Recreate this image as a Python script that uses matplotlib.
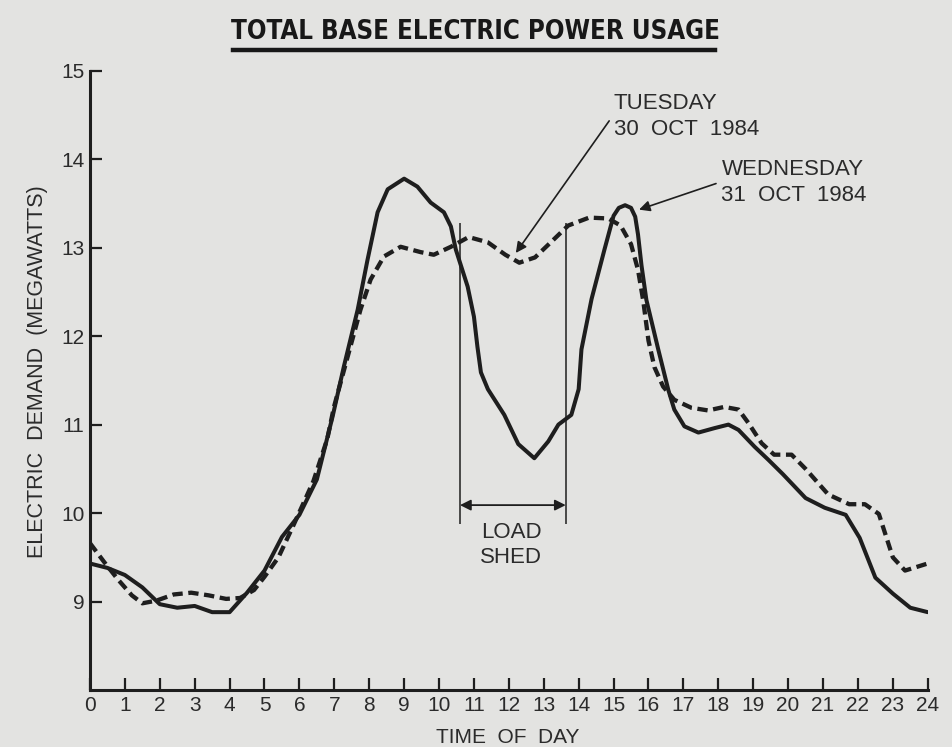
import matplotlib
matplotlib.use("Agg")
import matplotlib.pyplot as plt
from matplotlib.lines import Line2D
from matplotlib import font_manager

# (hours, megawatts)
wed_hours = [0, 0.5, 1.0, 1.5, 2.0, 2.5, 3.0, 3.5, 4.0, 4.5, 5.0, 5.5, 6.0, 6.5,
             6.95, 7.27, 7.67, 7.95, 8.24, 8.53, 9.0, 9.38, 9.76, 10.14, 10.34,
             10.48, 10.82, 11.0, 11.1, 11.2, 11.4, 11.87, 12.27, 12.73, 13.13,
             13.42, 13.79, 14.0, 14.08, 14.37, 14.74, 15.0, 15.15, 15.33, 15.5,
             15.62, 15.7, 15.8, 15.94, 16.28, 16.57, 16.74, 17.03, 17.43, 17.89,
             18.29, 18.58, 19.04, 19.44, 19.85, 20.5, 21.05, 21.65, 22.05, 22.5,
             23.0, 23.5, 24.0]
wed_mw = [9.43, 9.38, 9.30, 9.16, 8.97, 8.93, 8.95, 8.88, 8.88, 9.10, 9.35, 9.73,
          9.98, 10.38, 11.09, 11.65, 12.3, 12.86, 13.4, 13.66, 13.78, 13.69, 13.51,
          13.4, 13.24, 12.98, 12.56, 12.22, 11.88, 11.59, 11.4, 11.11, 10.78,
          10.62, 10.81, 11.0, 11.11, 11.4, 11.85, 12.42, 12.98, 13.36, 13.45,
          13.48, 13.45, 13.35, 13.15, 12.8, 12.41, 11.85, 11.39, 11.17, 10.98,
          10.91, 10.96, 11.0, 10.94, 10.75, 10.6, 10.44, 10.17, 10.06, 9.98, 9.72,
          9.27, 9.09, 8.93, 8.88]

tue_hours = [0, 0.4, 0.8, 1.2, 1.5, 1.9, 2.4, 2.9, 3.4, 3.9, 4.3, 4.7, 5.0, 5.4,
             5.85, 6.4, 6.8, 6.99, 7.46, 7.75, 8.04, 8.42, 8.9, 9.47, 9.85, 10.34,
             10.85, 11.4, 11.9, 12.3, 12.75, 13.2, 13.7, 14.3, 14.85, 15.2, 15.5,
             15.7, 15.85, 16.0, 16.17, 16.42, 16.74, 17.23, 17.71, 18.17, 18.58,
             18.86, 19.24, 19.6, 20.1, 20.5, 21.15, 21.75, 22.2, 22.6, 23.0, 23.35,
             24.0]
tue_mw = [9.66, 9.45, 9.25, 9.07, 8.98, 9.01, 9.08, 9.10, 9.07, 9.03, 9.04, 9.13,
          9.28, 9.50, 9.88, 10.36, 10.84, 11.2, 11.88, 12.3, 12.64, 12.9, 13.01,
          12.95, 12.92, 13.01, 13.12, 13.06, 12.92, 12.83, 12.89, 13.06, 13.25,
          13.34, 13.33, 13.25, 13.04, 12.75, 12.4, 11.95, 11.65, 11.43, 11.28,
          11.19, 11.16, 11.2, 11.17, 11.02, 10.79, 10.66, 10.66, 10.5, 10.21,
          10.1, 10.1, 9.99, 9.5, 9.35, 9.43]

shed_start = 10.6
shed_end = 13.63
hour_ticks = list(range(0, 25))
mw_ticks = [9, 10, 11, 12, 13, 14, 15]

paper = "#e3e3e1"
ink = "#1e1e1e"
text_ink = "#2b2b2b"

plt.rcParams['font.family'] = ['Liberation Sans', 'DejaVu Sans']

names = {f.name for f in font_manager.fontManager.ttflist}
if 'Liberation Sans Narrow' in names:
    title_font = dict(family='Liberation Sans Narrow', weight='bold', fontsize=21)
else:
    title_font = dict(family='DejaVu Sans', stretch='condensed', weight='bold',
                      fontsize=18.5)

fig = plt.figure(figsize=(9.52, 7.47), dpi=100, facecolor=paper)
ax = fig.add_axes([0.0945, 0.0763, 0.880, 0.829])
ax.set_facecolor(paper)

ax.plot(wed_hours, wed_mw, color=ink, lw=2.9, solid_joinstyle='round',
        solid_capstyle='round')
ax.plot(tue_hours, tue_mw, color=ink, lw=3.1, dashes=(2.4, 1.3),
        dash_capstyle='butt', dash_joinstyle='round')

# load shed window
ax.vlines([shed_start, shed_end], 9.88, 13.28, color=ink, lw=1.1)
ax.annotate("", xy=(shed_start, 10.09), xytext=(shed_end, 10.09),
            arrowprops=dict(arrowstyle='<|-|>', color=ink, lw=1.3,
                            mutation_scale=16, shrinkA=0, shrinkB=0))
ax.text((shed_start + shed_end) / 2 - 0.05, 9.64, "LOAD\nSHED", ha='center',
        va='center', fontsize=16, color=text_ink, linespacing=1.3)

# labels for the two days
ax.annotate("TUESDAY\n30  OCT  1984", xy=(12.2, 12.94), xytext=(15.0, 14.48),
            ha='left', va='center', fontsize=16, color=text_ink, linespacing=1.3,
            arrowprops=dict(arrowstyle='-|>', color=ink, lw=1.2,
                            mutation_scale=16, shrinkA=2, shrinkB=0,
                            relpos=(-0.01, 0.5)))
ax.annotate("WEDNESDAY\n31  OCT  1984", xy=(15.73, 13.43), xytext=(18.09, 13.74),
            ha='left', va='center', fontsize=16, color=text_ink, linespacing=1.3,
            arrowprops=dict(arrowstyle='-|>', color=ink, lw=1.2,
                            mutation_scale=16, shrinkA=2, shrinkB=0,
                            relpos=(-0.01, 0.5)))

ax.set_xlim(0, 24)
ax.set_ylim(8, 15)
ax.set_xticks(hour_ticks)
ax.set_yticks(mw_ticks)
ax.tick_params(direction='in', length=8.6, width=1.6, color=ink,
               labelsize=15, labelcolor=text_ink)
ax.tick_params(axis='x', pad=4)
ax.tick_params(axis='y', pad=4)
for side in ['top', 'right']:
    ax.spines[side].set_visible(False)
for side in ['left', 'bottom']:
    ax.spines[side].set_linewidth(2.2)
    ax.spines[side].set_color(ink)

fig.text(0.039, 0.502, "ELECTRIC  DEMAND  (MEGAWATTS)", rotation=90,
         ha='center', va='center', fontsize=15.5, color=text_ink)
fig.text(0.533, 0.0, "TIME  OF  DAY", ha='center', va='bottom',
         fontsize=15, color=text_ink)

fig.text(0.499, 0.957, "TOTAL BASE ELECTRIC POWER USAGE", ha='center',
         va='center', color="#181818", **title_font)
fig.add_artist(Line2D([233 / 952, 715 / 952], [1 - 50 / 747, 1 - 50 / 747],
                      color="#181818", lw=3.2, transform=fig.transFigure))

fig.savefig("out.png", dpi=100, facecolor=paper)
